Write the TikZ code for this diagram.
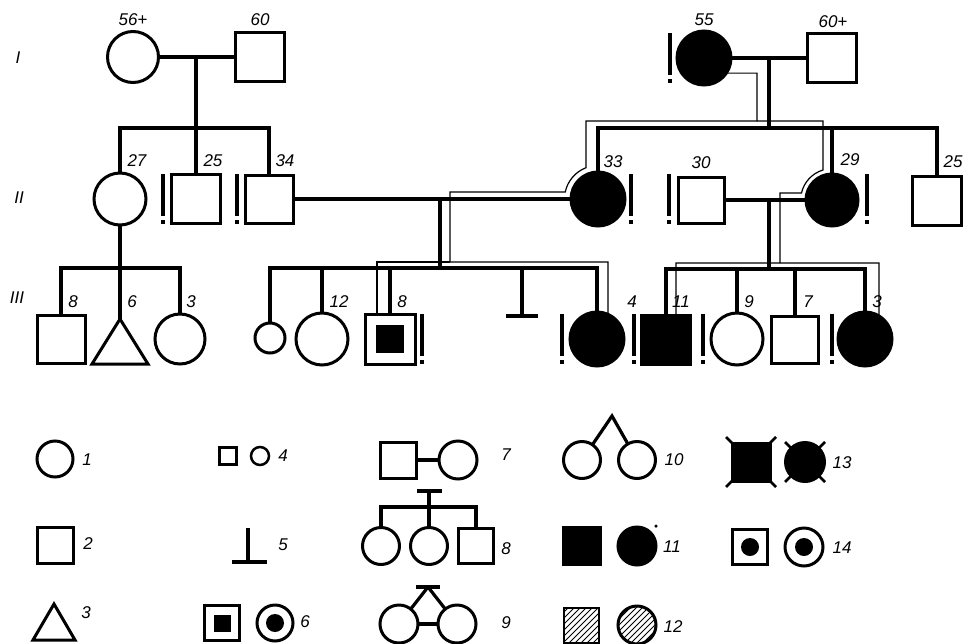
\documentclass[tikz,border=0pt]{standalone}
\usepackage{fontspec}
\setmainfont{Liberation Sans}
\newcommand\exclmark[2]{\fill (#1-2,#2-25) rectangle (#1+2,#2+17); \fill (#1-2,#2+20.5) rectangle (#1+2,#2+25);}
\begin{document}
\begin{tikzpicture}[x=1pt,y=-1pt,
  sym/.style={draw, line width=3pt, inner sep=0pt, outer sep=0pt},
  fem/.style={sym, circle},
  male/.style={sym, rectangle},
  aff/.style={fill=black},
  link/.style={line width=3.2pt},
  trace/.style={line width=1.2pt},
  lab/.style={font=\fontsize{17}{19}\selectfont\itshape, inner sep=0pt},
  dotc/.style={circle, fill=black, inner sep=0pt, minimum size=18pt},
  hatch/.style={path picture={
     \foreach \t in {-48,-42,...,48}
       \draw[line width=0.8pt] ([shift={(\t-25,25)}]path picture bounding box.center)
          -- ([shift={(\t+25,-25)}]path picture bounding box.center);}},
]
\useasboundingbox[fill=white] (0,0) rectangle (967,643);

% ---------- generation labels
\node[lab] (gI) at (18,58) {I};
\node[lab] (gII) at (19,198) {II};
\node[lab] (gIII) at (17,298) {III};

% ---------- Generation I
\node[fem, minimum size=51pt] (a1) at (133,57) {};
\node[male, minimum size=49pt] (a2) at (260,57) {};
\node[fem, aff, minimum size=54pt] (b1) at (704,58) {};
\node[male, minimum size=49pt] (b2) at (832,58) {};

% ---------- Generation II
\node[fem, minimum size=52pt] (c1) at (120,199) {};
\node[male, minimum size=49pt] (c2) at (196,199) {};
\node[male, minimum size=48pt] (c3) at (269,199) {};
\node[fem, aff, minimum size=54pt] (d1) at (598,199) {};
\node[male, minimum size=46pt] (d2) at (701,200) {};
\node[fem, aff, minimum size=52pt] (d3) at (832,200) {};
\node[male, minimum size=49pt] (d4) at (937,201) {};

% ---------- Generation III
\node[male, minimum size=48pt] (e1) at (61,339) {};
\coordinate (e2) at (120,319);
\node[fem, minimum size=50pt] (e3) at (180,339) {};
\node[fem, minimum size=30pt] (f1) at (270,338) {};
\node[fem, minimum size=52pt] (f2) at (322,339) {};
\node[male, minimum size=50pt] (f3) at (390,339) {};
\node[fill=black, inner sep=0pt, minimum size=28pt] (f3i) at (390,339) {};
\coordinate (f4) at (522,316);
\node[fem, aff, minimum size=54pt] (f5) at (597,339) {};
\node[male, aff, minimum size=49pt] (g1) at (666,340) {};
\node[fem, minimum size=52pt] (g2) at (737,339) {};
\node[male, minimum size=47pt] (g3) at (795,340) {};
\node[fem, aff, minimum size=54pt] (g4) at (865,339) {};

% ---------- connectors, left family
\coordinate (m1) at (196,57); \coordinate (s1) at (196,128);
\draw[link] (a1) -- (a2);
\draw[link] (m1) -- (s1);
\draw[link, line join=miter] (c1.north) |- (s1) -| (c3.north);
\draw[link] (s1) -- (c2.north);

\coordinate (s4) at (120,268);
\draw[link] (c1.south) -- (e2);
\draw[link, line join=miter] (e1.north) |- (s4) -| (e3.north);
\draw[line width=3pt, line join=miter] (e2) -- (148,364) -- (92,364) -- cycle;

% ---------- connectors, right family
\coordinate (m2) at (769,58); \coordinate (s2) at (769,128);
\draw[link] (b1) -- (b2);
\draw[link] (m2) -- (s2);
\draw[link, line join=miter] (d1.north) |- (s2) -| (d4.north);
\draw[link] (d3.north) -- (d3.north |- s2);

\draw[link] (c3) -- (d1);
\coordinate (m3) at (440,199); \coordinate (s3) at (440,268);
\draw[link] (m3) -- (s3);
\draw[link, line join=miter] (f1.north) |- (s3) -| (f5.north);
\draw[link] (f2.north) -- (f2.north |- s3);
\draw[link] (f3.north) -- (f3.north |- s3);
\draw[link] (f4) -- (f4 |- s3);
\draw[link] ([xshift=-16pt]f4) -- ([xshift=16pt]f4);

\draw[link] (d2) -- (d3);
\coordinate (m4) at (769,200); \coordinate (s5) at (769,269);
\draw[link] (m4) -- (s5);
\draw[link, line join=miter] (g1.north) |- (s5) -| (g4.north);
\draw[link] (g2.north) -- (g2.north |- s5);
\draw[link] (g3.north) -- (g3.north |- s5);

% ---------- thin trace lines
\coordinate (k1) at (757,121);
\draw[trace] (b1.-34) -| (k1) -- (586,121) -- (586,167.7)
   arc[start angle=111, end angle=168, radius=33.5pt] -- (450,192) -- (450,262) -- (608,262) -- (f5.66);
\draw[trace] (k1) -- (823,121) -- (823,170)
   arc[start angle=106.7, end angle=167, radius=31.3pt] -- (780,193) -- (780,263);
\coordinate (k2) at (879,263);
\draw[trace] ([xshift=10pt]g1.north) |- (k2) -- (g4.59);
\draw[trace] ([xshift=-13pt]f3.north) |- (450,262);

% ---------- exclamation marks
\exclmark{670}{58}
\exclmark{163}{199}
\exclmark{237}{199}
\exclmark{631}{199}
\exclmark{669}{199}
\exclmark{867}{199}
\exclmark{422}{339}
\exclmark{562}{339}
\exclmark{634}{339}
\exclmark{703}{339}
\exclmark{832}{339}

% ---------- pedigree labels
\node[lab] (t1) at (133,20) {56+};
\node[lab] (t2) at (260,20) {60};
\node[lab] (t3) at (704,20) {55};
\node[lab] (t4) at (833,22) {60+};
\node[lab] (t5) at (137,161) {27};
\node[lab] (t6) at (213,161) {25};
\node[lab] (t7) at (285,161) {34};
\node[lab] (t8) at (613,162) {33};
\node[lab] (t9) at (701,163) {30};
\node[lab] (t10) at (850,160) {29};
\node[lab] (t11) at (953,162) {25};
\node[lab] (t12) at (73,302) {8};
\node[lab] (t13) at (132,302) {6};
\node[lab] (t14) at (191,302) {3};
\node[lab] (t15) at (339,302) {12};
\node[lab] (t16) at (402,302) {8};
\node[lab] (t17) at (632,302) {4};
\node[lab] (t18) at (681,302) {11};
\node[lab] (t19) at (749,302) {9};
\node[lab] (t20) at (808,302) {7};
\node[lab] (t21) at (877,302) {3};

% ---------- legend
\node[fem, minimum size=36pt] (L1) at (55,459) {};
\node[male, minimum size=36pt] (L2) at (55,545) {};
\coordinate (L3) at (54,604);
\draw[line width=3pt, line join=miter] (L3) -- (75,640) -- (33,640) -- cycle;

\node[male, minimum size=17pt, line width=2.5pt] (L4a) at (228,456) {};
\node[fem, minimum size=18pt, line width=2.5pt] (L4b) at (260,456) {};

\coordinate (L5) at (248,562);
\draw[link] (L5) -- (248,528);
\draw[link] ([xshift=-16pt]L5) -- ([xshift=19pt]L5);

\node[male, minimum size=35pt] (L6a) at (222,623) {};
\node[fill=black, inner sep=0pt, minimum size=17pt] (L6ai) at (222,623) {};
\node[fem, minimum size=36pt] (L6b) at (275,623) {};
\node[dotc] (L6bi) at (275,623) {};

\node[male, minimum size=36pt] (L7a) at (398,460) {};
\node[fem, minimum size=38pt] (L7b) at (458,460) {};
\draw[link] (L7a) -- (L7b);

\coordinate (L8t) at (429,491); \coordinate (L8s) at (429,507);
\node[fem, minimum size=37pt] (L8a) at (381,546) {};
\node[fem, minimum size=37pt] (L8b) at (429,546) {};
\node[male, minimum size=35pt] (L8c) at (476,546) {};
\draw[link] ([xshift=-12pt]L8t) -- ([xshift=13pt]L8t);
\draw[link] (L8t) -- (L8s);
\draw[link, line join=miter] (L8a.north) |- (L8s) -| (L8c.north);
\draw[link] (L8b.north) -- (L8s);

\coordinate (L9t) at (428,587);
\node[fem, minimum size=38pt] (L9a) at (399,624) {};
\node[fem, minimum size=38pt] (L9b) at (457,624) {};
\draw[link] ([xshift=-12pt]L9t) -- ([xshift=12pt]L9t);
\draw[link] (L9t) -- (L9a);
\draw[link] (L9t) -- (L9b);
\draw[link] (L9a) -- (L9b);

\coordinate (L10t) at (612,416);
\node[fem, minimum size=37pt] (L10a) at (582,460) {};
\node[fem, minimum size=37pt] (L10b) at (637,460) {};
\draw[link, line join=miter] (L10a) -- (L10t) -- (L10b);

\node[male, aff, minimum size=37pt] (L11a) at (582,546) {};
\node[fem, aff, minimum size=38pt] (L11b) at (637,546) {};
\node[circle, fill=black, inner sep=0pt, minimum size=3.5pt] (L11d) at (656,526) {};

\node[male, hatch, minimum size=35pt, line width=2pt] (L12a) at (581,625) {};
\node[fem, hatch, minimum size=38pt] (L12b) at (637,625) {};

\node[male, aff, minimum size=38pt] (L13a) at (751,462) {};
\node[fem, aff, minimum size=39pt] (L13b) at (805,462) {};
\foreach \sx/\sy in {-1/-1,1/-1,-1/1,1/1}{
  \draw[line width=2.6pt] ([shift={(\sx*16,\sy*16)}]L13a.center) -- ([shift={(\sx*25,\sy*25)}]L13a.center);
  \draw[line width=2.6pt] ([shift={(\sx*10,\sy*10)}]L13b.center) -- ([shift={(\sx*20,\sy*20)}]L13b.center);
}

\node[male, minimum size=35pt] (L14a) at (750,547) {};
\node[dotc] (L14ai) at (750,547) {};
\node[fem, minimum size=38pt] (L14b) at (804,547) {};
\node[dotc] (L14bi) at (804,547) {};

% ---------- legend labels
\node[lab] (n1) at (87,460) {1};
\node[lab] (n2) at (88,544) {2};
\node[lab] (n3) at (86,613) {3};
\node[lab] (n4) at (283,456) {4};
\node[lab] (n5) at (283,545) {5};
\node[lab] (n6) at (305,622) {6};
\node[lab] (n7) at (506,455) {7};
\node[lab] (n8) at (506,549) {8};
\node[lab] (n9) at (506,623) {9};
\node[lab] (n10) at (674,460) {10};
\node[lab] (n11) at (672,547) {11};
\node[lab] (n12) at (673,627) {12};
\node[lab] (n13) at (842,463) {13};
\node[lab] (n14) at (842,548) {14};
\end{tikzpicture}
\end{document}
